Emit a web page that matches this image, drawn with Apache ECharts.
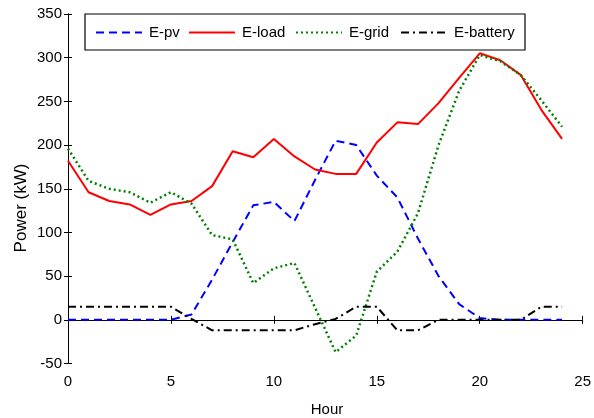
<!DOCTYPE html>
<html>
<head>
<meta charset="utf-8">
<script src="https://cdn.jsdelivr.net/npm/echarts@6/dist/echarts.min.js"></script>
<style>
html,body{margin:0;padding:0;background:#fff;}
#chart{width:594px;height:418px;}
</style>
</head>
<body>
<div id="chart"></div>
<script>
const hours = [0,1,2,3,4,5,6,7,8,9,10,11,12,13,14,15,16,17,18,19,20,21,22,23,24];
const ePv = [0,0,0,0,0,0,6,46,89,131,135,113,160,205,200,165,140,93,50,18,2,0,0,0,0];
const eLoad = [182,146,136,132,120,132,136,153,193,186,207,187,172,167,167,203,226,224,248,277,305,297,280,240,207];
const eGrid = [196,159,150,146,134,146,133,97,92,42,59,65,14,-37,-18,55,78,122,200,262,303,296,280,251,221];
const eBattery = [15,15,15,15,15,15,1,-12,-12,-12,-12,-12,-5,1,15,15,-12,-12,0,0,0,0,0,15,15];
const xTicks = [0,5,10,15,20,25];
const yTicks = [-50,0,50,100,150,200,250,300,350];
const names = ['E-pv','E-load','E-grid','E-battery'];

const FONT = 'Liberation Sans, Arial, sans-serif';
const pair = arr => hours.map((h,i)=>[h,arr[i]]);

const chart = echarts.init(document.getElementById('chart'), null, {renderer:'canvas'});

const axisCommon = {
  axisLine:{show:true, lineStyle:{color:'#000', width:1}},
  axisTick:{show:true, inside:true, length:4, lineStyle:{color:'#000'}},
  splitLine:{show:false}
};

const legendLefts = [95, 188, 295, 400];
const legends = names.map((n,i)=>({
  data:[n], left:legendLefts[i], top:25, padding:0, z:10,
  itemWidth:46, itemHeight:14, itemGap:0,
  itemStyle:{opacity:0},
  textStyle:{fontFamily:FONT, fontSize:15, color:'#000', padding:[0,0,0,2]},
  selectedMode:false
}));

chart.setOption({
  animation:false,
  backgroundColor:'#fff',
  grid:{left:68, right:7, top:14, bottom:54.5, containLabel:false},
  xAxis:[
    Object.assign({type:'value', min:xTicks[0], max:xTicks[xTicks.length-1], interval:5, position:'bottom',
      axisLabel:{show:true, color:'#000', fontFamily:FONT, fontSize:15, margin:11, showMaxLabel:true}}, axisCommon),
    Object.assign({type:'value', min:xTicks[0], max:xTicks[xTicks.length-1], interval:5, position:'top',
      axisLabel:{show:false}}, axisCommon)
  ],
  yAxis:[
    Object.assign({type:'value', min:yTicks[0], max:yTicks[yTicks.length-1], interval:50, position:'left',
      axisLabel:{show:true, color:'#000', fontFamily:FONT, fontSize:15, margin:6}}, axisCommon),
    Object.assign({type:'value', min:yTicks[0], max:yTicks[yTicks.length-1], interval:50, position:'right',
      axisLabel:{show:false}}, axisCommon)
  ],
  legend: legends,
  graphic:[
    {type:'rect', z:5, shape:{x:85, y:14, width:440, height:36},
     style:{fill:'#fff', stroke:'#000', lineWidth:1.2}},
    {type:'text', z:5, x:327, y:410, style:{text:'Hour', fontFamily:FONT, fontSize:15, fill:'#000', align:'center', verticalAlign:'middle'}},
    {type:'text', z:5, x:21, y:208, rotation:Math.PI/2, style:{text:'Power (kW)', fontFamily:FONT, fontSize:17, fill:'#000', align:'center', verticalAlign:'middle'}}
  ],
  series:[
    {name:names[0], type:'line', data:pair(ePv), symbol:'none', showSymbol:false, z:3,
     lineStyle:{color:'#0000ff', width:2, type:[8,5]}, itemStyle:{color:'#0000ff'}},
    {name:names[1], type:'line', data:pair(eLoad), symbol:'none', showSymbol:false, z:3,
     lineStyle:{color:'#ff0000', width:2, type:'solid'}, itemStyle:{color:'#ff0000'}},
    {name:names[2], type:'line', data:pair(eGrid), symbol:'none', showSymbol:false, z:3,
     lineStyle:{color:'#008000', width:2.5, type:[2,3]}, itemStyle:{color:'#008000'}},
    {name:names[3], type:'line', data:pair(eBattery), symbol:'none', showSymbol:false, z:3,
     lineStyle:{color:'#000000', width:2, type:[8,4,2,4]}, itemStyle:{color:'#000000'}}
  ]
});
</script>
</body>
</html>
